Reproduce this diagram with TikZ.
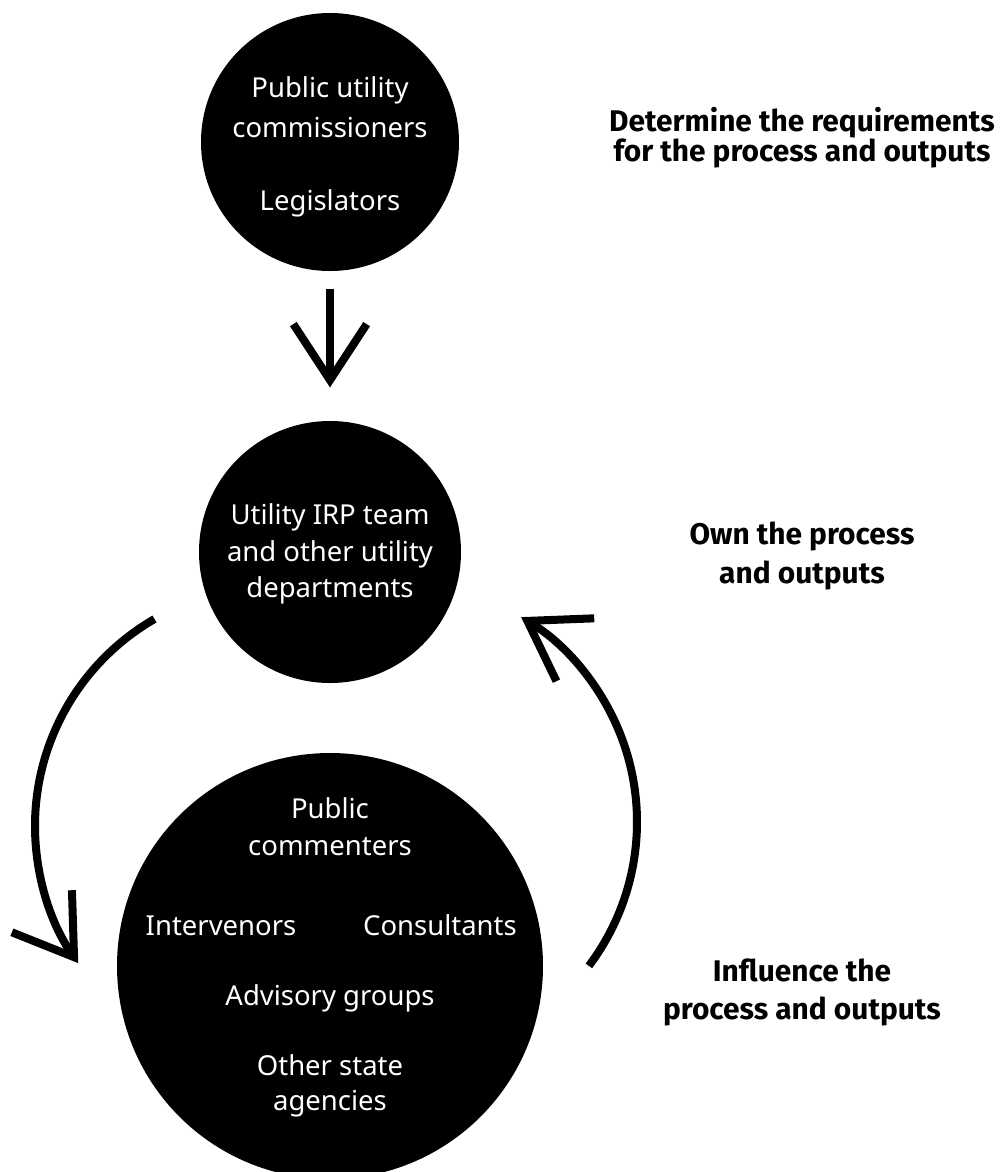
\documentclass[tikz,border=0pt]{standalone}
\usepackage{fontspec}
\setmainfont{Noto Sans}
\newfontfamily\rolefont{Fira Sans}
\usetikzlibrary{arrows.meta}
\begin{document}
\begin{tikzpicture}[x=0.75pt,y=0.75pt,
  disc/.style={circle, fill=black, inner sep=0pt, minimum size=#1},
  intext/.style={text=white, anchor=base, inner sep=0pt, font=\fontsize{20.6}{24}\selectfont},
  sidetext/.style={anchor=base, inner sep=0pt, font=\rolefont\bfseries\fontsize{22.4}{26}\selectfont},
  link/.style={line width=6pt, -{Straight Barb[length=42pt,width=55pt]}}]
\useasboundingbox (0,0) rectangle (1002,-1172);

% the three groups
\node[disc=193.5pt] (reg) at (330,-142) {};
\node[disc=196.5pt] (own) at (330,-552) {};
\node[disc=319.5pt] (infl) at (330,-966) {};

% who sets the rules
\node[intext] (reg1) at (330,-97) {Public utility};
\node[intext] (reg2) at (330,-137) {commissioners};
\node[intext] (reg3) at (330,-210) {Legislators};

% who owns the plan
\node[intext] (own1) at (330,-524) {Utility IRP team};
\node[intext] (own2) at (330,-561) {and other utility};
\node[intext] (own3) at (330,-597) {departments};

% who influences it
\node[intext] (inf1) at (330,-818) {Public};
\node[intext] (inf2) at (330,-855) {commenters};
\node[intext] (inf3) at (221,-935) {Intervenors};
\node[intext] (inf4) at (440,-935) {Consultants};
\node[intext] (inf5) at (330,-1005) {Advisory groups};
\node[intext] (inf6) at (330,-1075) {Other state};
\node[intext] (inf7) at (330,-1110) {agencies};

% roles
\node[sidetext] (role1a) at (802,-131) {Determine the requirements};
\node[sidetext] (role1b) at (802,-161) {for the process and outputs};
\node[sidetext] (role2a) at (802,-544) {Own the process};
\node[sidetext] (role2b) at (802,-583) {and outputs};
\node[sidetext] (role3a) at (802,-981) {Influence the};
\node[sidetext] (role3b) at (802,-1019) {process and outputs};

% requirements flow down
\draw[link] ([yshift=-13pt]reg.south) -- ([yshift=25pt]own.north);

% feedback loop between owner and influencers
\coordinate (lc) at (274,-826);
\coordinate (rc) at (398,-822);
\path (lc) ++(120:239) coordinate (lstart);
\path (rc) ++(-37:239) coordinate (rstart);
\draw[link] (lstart) arc[start angle=120, end angle=215, radius=239];
\draw[link] (rstart) arc[start angle=-37, end angle=59, radius=239];
\end{tikzpicture}
\end{document}
